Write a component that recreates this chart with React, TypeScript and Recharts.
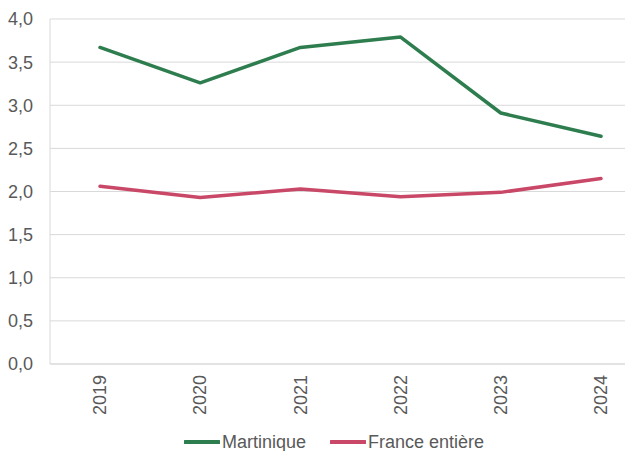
import React from 'react';
import { LineChart, Line, XAxis, YAxis, CartesianGrid } from 'recharts';

const years = ['2019', '2020', '2021', '2022', '2023', '2024'];
const martinique = [3.67, 3.26, 3.67, 3.79, 2.91, 2.64];
const franceEntiere = [2.06, 1.93, 2.03, 1.94, 1.99, 2.15];
const yTicks = [0, 0.5, 1, 1.5, 2, 2.5, 3, 3.5, 4];

const GREEN = '#2E7D4F';
const PINK = '#C94868';
const FONT = '"Liberation Sans", Arial, sans-serif';
const TEXT = '#595959';

const data = years.map((y, i) => ({ year: y, martinique: martinique[i], france: franceEntiere[i] }));

const XTick = (props: any) => {
  const { x, y, payload } = props;
  const ty = y + 3;
  return (
    <text
      x={x}
      y={ty}
      transform={`rotate(-90, ${x}, ${ty})`}
      textAnchor="end"
      dy="0.35em"
      fill={TEXT}
      fontSize={18}
      fontFamily={FONT}
    >
      {payload.value}
    </text>
  );
};

const legendItems = [
  { label: 'Martinique', color: GREEN },
  { label: 'France entière', color: PINK },
];

export default function App() {
  return (
    <div style={{ position: 'absolute', left: 0, top: 0, width: 625, height: 451, overflow: 'hidden', background: '#fff' }}>
      <LineChart width={672} height={451} data={data} margin={{ top: 19, right: 21, left: 0, bottom: 0 }}>
        <CartesianGrid horizontal vertical={false} stroke="#d9d9d9" strokeWidth={1} />
        <XAxis
          dataKey="year"
          height={87}
          padding={{ left: 50, right: 50 }}
          axisLine={{ stroke: '#d9d9d9' }}
          tickLine={false}
          tick={<XTick />}
          interval={0}
        />
        <YAxis
          width={50}
          domain={[0, 4]}
          ticks={yTicks}
          axisLine={{ stroke: '#d9d9d9' }}
          tickLine={false}
          tickSize={0}
          tickMargin={17}
          tick={{ fill: TEXT, fontSize: 18, fontFamily: FONT }}
          tickFormatter={(v: number) => v.toFixed(1).replace('.', ',')}
        />
        <Line type="linear" dataKey="martinique" name="Martinique" stroke={GREEN} strokeWidth={3.5} dot={false} isAnimationActive={false} strokeLinecap="round" strokeLinejoin="round" />
        <Line type="linear" dataKey="france" name="France entière" stroke={PINK} strokeWidth={3.5} dot={false} isAnimationActive={false} strokeLinecap="round" strokeLinejoin="round" />
      </LineChart>
      <div style={{ position: 'absolute', left: 184, top: 432, height: 20, display: 'flex', alignItems: 'center', fontFamily: FONT, fontSize: 18, color: TEXT, whiteSpace: 'nowrap' }}>
        {legendItems.map((it, i) => (
          <div key={it.label} style={{ display: 'flex', alignItems: 'center', marginLeft: i === 0 ? 0 : 24 }}>
            <svg width={36} height={6} style={{ display: 'block' }}>
              <line x1={1} y1={3} x2={35} y2={3} stroke={it.color} strokeWidth={4} strokeLinecap="round" />
            </svg>
            <span style={{ marginLeft: 2, lineHeight: '20px' }}>{it.label}</span>
          </div>
        ))}
      </div>
    </div>
  );
}
